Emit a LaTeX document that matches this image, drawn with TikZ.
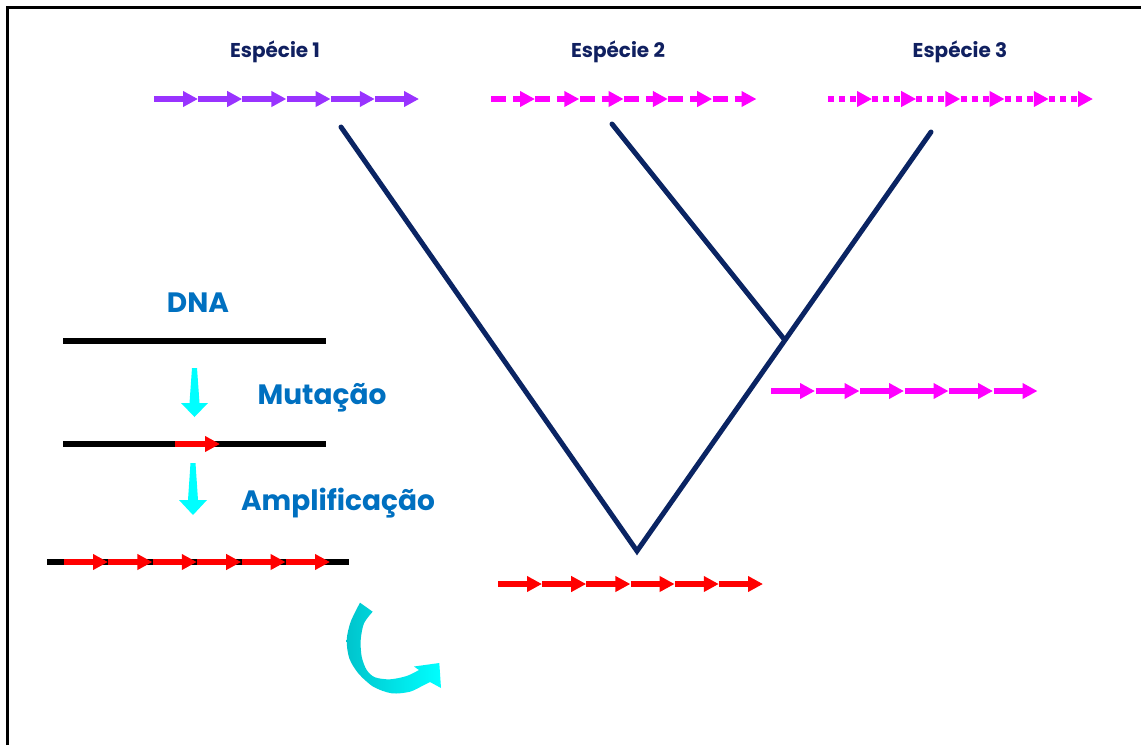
\documentclass[tikz,border=0pt]{standalone}
\usepackage{fontspec}
\setmainfont{Poppins}
\usetikzlibrary{arrows.meta}
\definecolor{treeblue}{RGB}{10,36,99}
\definecolor{titlenavy}{RGB}{16,32,96}
\definecolor{labelblue}{RGB}{0,112,192}
\definecolor{violet1}{RGB}{153,51,255}
\definecolor{pinkm}{RGB}{255,0,255}
\definecolor{redm}{RGB}{255,0,0}
\definecolor{cyanm}{RGB}{0,255,255}
\definecolor{tealm}{RGB}{0,196,204}
\tikzset{
  species/.style={font=\bfseries\fontsize{20}{22}\selectfont, text=titlenavy, inner sep=0pt},
  stage/.style={font=\bfseries\fontsize{28}{32}\selectfont, text=labelblue, inner sep=0pt},
  seg/.style={line width=6pt, -{Triangle[length=15pt,width=15pt]}},
  dnaline/.style={line width=5.5pt, black},
  branch/.style={line width=5pt, treeblue, line cap=round},
  stepdown/.style={fill=cyanm, draw=none},
}
\begin{document}
\begin{tikzpicture}[x=1pt,y=-1pt]
\useasboundingbox (0,0) rectangle (1141,745);

% frame
\draw[line width=3pt] (7,745) -- (7,7) -- (1141,7);

% species titles
\node[species] (t1) at (275,52) {Espécie 1};
\node[species] (t2) at (618,52) {Espécie 2};
\node[species] (t3) at (960,52) {Espécie 3};

% gene copies of each species
\foreach \i in {0,...,5}
  \draw[seg, violet1] ({154+44.2*\i},99) -- ({198+44.2*\i},99);
\foreach \i in {0,...,5}
  \draw[seg, pinkm, dash pattern=on 15pt off 7pt on 40pt] ({491+44.3*\i},99) -- ({535+44.3*\i},99);
\foreach \i in {0,...,5}
  \draw[seg, pinkm, dash pattern=on 6pt off 5pt] ({828+44.2*\i},99) -- ({872+44.2*\i},99);

% tree
\coordinate (root) at (637,551);
\coordinate (inner) at (784,339);
\coordinate (leaf1) at (341,127);
\coordinate (leaf2) at (612,124);
\coordinate (leaf3) at (931,132);
\draw[branch] (leaf1) -- (root) -- (leaf3);
\draw[branch] (leaf2) -- (inner);

% ancestral copies
\foreach \i in {0,...,5}
  \draw[seg, pinkm] ({771+44.5*\i},391) -- ({815+44.5*\i},391);
\foreach \i in {0,...,5}
  \draw[seg, redm] ({498+44.2*\i},584) -- ({542+44.2*\i},584);

% DNA, mutation, amplification
\node[stage] (dna) at (198,303) {DNA};
\draw[dnaline] (63,341) -- (326,341);
\fill[stepdown] (192,368) -- (197,368) -- (199.5,403) -- (208,403) -- (194.5,417) -- (181,403) -- (189.5,403) -- cycle;
\node[stage] (mut) at (322,398) {Mutação};
\draw[dnaline] (63,444) -- (326,444);
\draw[seg, redm] (175,444) -- (220,444);
\fill[stepdown] (190.5,463) -- (195.5,463) -- (198,500) -- (207,500) -- (193,515) -- (179,500) -- (188,500) -- cycle;
\node[stage] (amp) at (338,503) {Amplificação};
\draw[dnaline] (47,562) -- (349,562);
\foreach \i in {0,...,5}
  \draw[seg, redm] ({64+44.4*\i},562) -- ({108+44.4*\i},562);

% curved arrow
\shade[left color=tealm, right color=cyanm]
  plot[smooth] coordinates {(360,602.7) (350.7,621.7) (346.7,640) (349.3,658.3) (358.3,673.3) (373.3,686.7) (391.7,693.3) (410,691.7) (424,685) (430,682)}
  -- (441,688) -- (439.3,663) -- (414,666.5) --
  plot[smooth] coordinates {(419,670) (406.7,676) (390,679.3) (375,677.3) (366.7,670) (361.7,656.7) (360.7,640) (364,623.3) (372.7,611.7)}
  -- cycle;
\end{tikzpicture}
\end{document}
